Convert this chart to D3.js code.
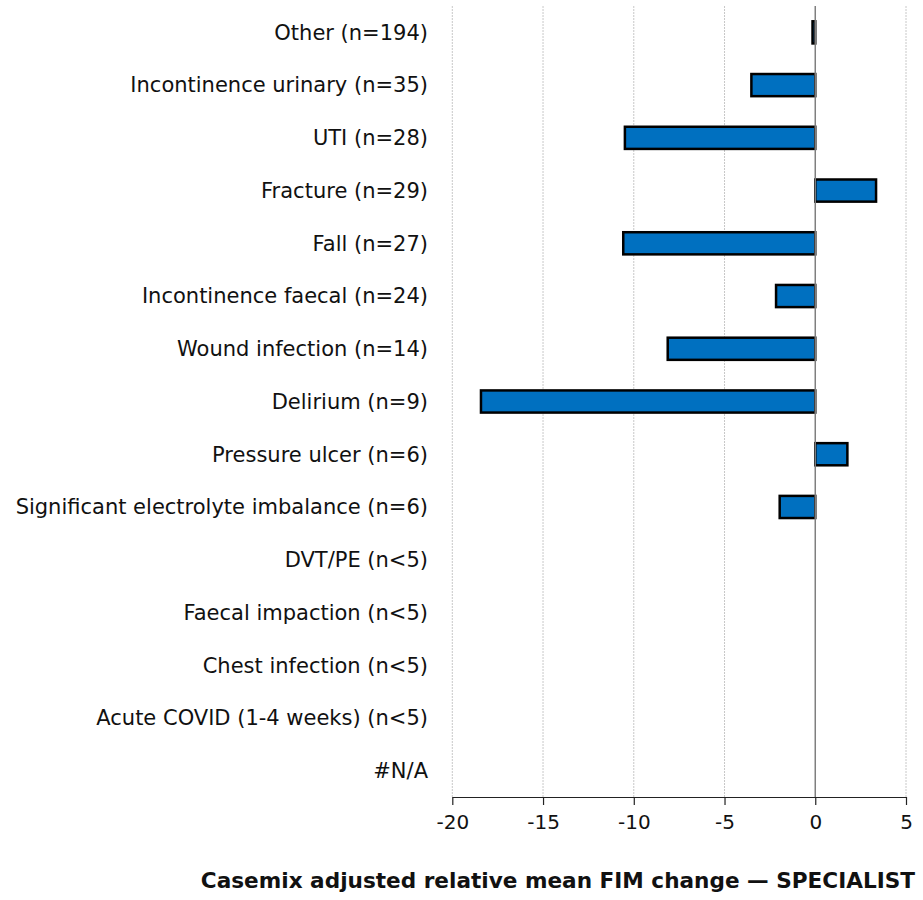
<!DOCTYPE html>
<html>
<head>
<meta charset="utf-8">
<script src="https://cdn.jsdelivr.net/npm/d3@7"></script>
<style>
  body { margin: 0; background: #fff; }
  svg text { font-family: "DejaVu Sans", sans-serif; fill: #111; }
</style>
</head>
<body>
<svg id="chart" width="923" height="900"></svg>
<script>
const categories = [
  "Other (n=194)",
  "Incontinence urinary (n=35)",
  "UTI (n=28)",
  "Fracture (n=29)",
  "Fall (n=27)",
  "Incontinence faecal (n=24)",
  "Wound infection (n=14)",
  "Delirium (n=9)",
  "Pressure ulcer (n=6)",
  "Significant electrolyte imbalance (n=6)",
  "DVT/PE (n<5)",
  "Faecal impaction (n<5)",
  "Chest infection (n<5)",
  "Acute COVID (1-4 weeks) (n<5)",
  "#N/A"
];
const values = [-0.15, -3.52, -10.49, 3.35, -10.58, -2.16, -8.13, -18.42, 1.77, -1.96, null, null, null, null, null];
const xTicks = [-20, -15, -10, -5, 0, 5];
const xTitle = "Casemix adjusted relative mean FIM change \u2014 SPECIALIST";

const svg = d3.select("#chart");
const plotLeft = 452.3, plotRight = 906, plotTop = 6, plotBottom = 797;
const labelFont = "'DejaVu Sans', sans-serif";

const x = d3.scaleLinear().domain([-20, 5]).range([plotLeft, plotRight]);
const y = d3.scaleBand().domain(categories).range([plotTop, plotBottom]).paddingInner(0.58).paddingOuter(0.29);

// gridlines
svg.append("g").selectAll("line").data(xTicks.filter(d => d !== 0)).join("line")
  .attr("x1", d => x(d)).attr("x2", d => x(d))
  .attr("y1", plotTop).attr("y2", plotBottom)
  .attr("stroke", "#c8c8c8").attr("stroke-width", 1)
  .attr("stroke-dasharray", "2,1");

// bars
const data = categories.map((c, i) => ({c, v: values[i]})).filter(d => d.v !== null);
svg.append("g").selectAll("rect").data(data).join("rect")
  .attr("x", d => x(Math.min(0, d.v)))
  .attr("y", d => y(d.c))
  .attr("width", d => Math.abs(x(d.v) - x(0)))
  .attr("height", y.bandwidth())
  .attr("fill", "#0070C0")
  .attr("stroke", "#000")
  .attr("stroke-width", 2.5);

// zero line
svg.append("line")
  .attr("x1", x(0)).attr("x2", x(0))
  .attr("y1", plotTop).attr("y2", plotBottom)
  .attr("stroke", "#7f7f7f").attr("stroke-width", 1.5);

// x axis
const xAxis = svg.append("g")
  .attr("transform", `translate(0,${plotBottom})`)
  .call(d3.axisBottom(x).tickValues(xTicks).tickSize(8).tickSizeOuter(0).tickPadding(10).tickFormat(d => d < 0 ? "-" + Math.abs(d) : d));
xAxis.select(".domain").attr("stroke", "#222").attr("stroke-width", 1.2);
xAxis.selectAll(".tick line").attr("stroke", "#222").attr("stroke-width", 1.2);
xAxis.selectAll(".tick text").attr("font-size", 20).attr("fill", "#111")
  .style("font-family", labelFont);

// category labels
svg.append("g").selectAll("text").data(categories).join("text")
  .attr("x", 428)
  .attr("y", d => y(d) + y.bandwidth() / 2)
  .attr("dy", "0.35em")
  .attr("text-anchor", "end")
  .attr("font-size", 21)
  .text(d => d);

// axis title
svg.append("text")
  .attr("x", 915)
  .attr("y", 888)
  .attr("text-anchor", "end")
  .attr("font-size", 21.6)
  .attr("font-weight", "bold")
  .text(xTitle);
</script>
</body>
</html>
